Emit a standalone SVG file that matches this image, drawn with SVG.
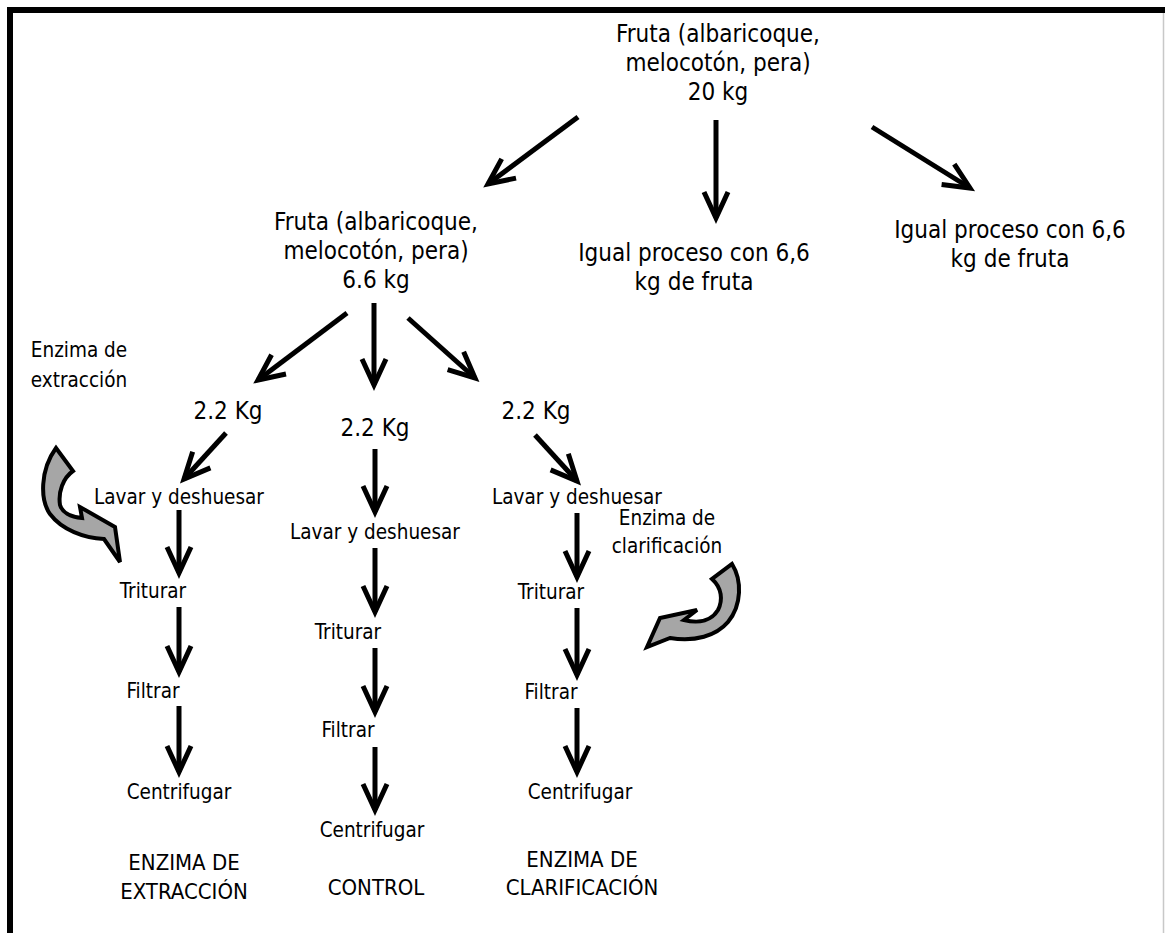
<svg xmlns="http://www.w3.org/2000/svg" width="1165" height="933" viewBox="0 0 1165 933">
  <style>
    text { font-family: "DejaVu Sans Condensed", "DejaVu Sans", sans-serif; fill: #000; text-anchor: middle; }
    .big { font-size: 24px; }
    .step { font-size: 20.5px; }
    .cap { font-size: 22px; }
    .arrow { stroke: #000; stroke-width: 5; fill: none; marker-end: url(#head); }
    .bend { fill: #a6a6a6; stroke: #000; stroke-width: 4; stroke-linejoin: miter; }
  </style>
  <defs>
    <marker id="head" markerUnits="userSpaceOnUse" orient="auto" overflow="visible" refX="0" refY="0" markerWidth="40" markerHeight="40">
      <path d="M-26,-12 L0,0 L-26,12" fill="none" stroke="#000" stroke-width="5" stroke-linejoin="miter"/>
    </marker>
  </defs>

  <rect width="1165" height="933" fill="#fff"/>

  <!-- frame -->
  <g id="frame">
    <rect x="7" y="7" width="1158" height="6" fill="#000"/>
    <rect x="7" y="7" width="6" height="926" fill="#000"/>
    <line x1="1163.5" y1="13" x2="1163.5" y2="933" stroke="#c8c8c8" stroke-width="1.5"/>
  </g>

  <!-- connectors -->
  <g id="connectors">
    <line class="arrow" x1="578" y1="117" x2="488" y2="184"/>
    <line class="arrow" x1="716" y1="120" x2="716" y2="218"/>
    <line class="arrow" x1="872" y1="127" x2="970" y2="188"/>

    <line class="arrow" x1="347" y1="313" x2="258" y2="380"/>
    <line class="arrow" x1="374" y1="303" x2="374" y2="385"/>
    <line class="arrow" x1="408" y1="318" x2="475" y2="378"/>

    <line class="arrow" x1="226" y1="433" x2="184" y2="479"/>
    <line class="arrow" x1="535" y1="435" x2="577" y2="481"/>

    <line class="arrow" x1="179" y1="510" x2="179" y2="573"/>
    <line class="arrow" x1="179" y1="607" x2="179" y2="672"/>
    <line class="arrow" x1="179" y1="706" x2="179" y2="772"/>

    <line class="arrow" x1="375" y1="449" x2="375" y2="512"/>
    <line class="arrow" x1="375" y1="548" x2="375" y2="612"/>
    <line class="arrow" x1="375" y1="648" x2="375" y2="712"/>
    <line class="arrow" x1="375" y1="747" x2="375" y2="810"/>

    <line class="arrow" x1="577" y1="513" x2="577" y2="577"/>
    <line class="arrow" x1="577" y1="608" x2="577" y2="675"/>
    <line class="arrow" x1="577" y1="708" x2="577" y2="772"/>

    <!-- curved enzyme-addition arrows -->
    <path class="bend" d="M56,448 L73,471 C63,478 58,492 60,505 C62,512 70,517 82,518 L80,507 L115,527 L120,562 L104,539 C84,538 62,530 50,514 C40,500 40,470 56,448 Z"/>
    <path class="bend" d="M732,564 C742,580 742,605 728,622 C716,636 695,642 670,638 L647,647 L660,618 L697,610 L684,620 C700,624 712,620 718,610 C723,600 722,588 712,579 Z"/>
  </g>

  <g id="fruta-20">
    <text class="big" x="718" y="42">Fruta (albaricoque,</text>
    <text class="big" x="718" y="71">melocotón, pera)</text>
    <text class="big" x="718" y="100">20 kg</text>
  </g>

  <g id="fruta-6-6">
    <text class="big" x="376" y="230">Fruta (albaricoque,</text>
    <text class="big" x="376" y="259">melocotón, pera)</text>
    <text class="big" x="376" y="288">6.6 kg</text>
  </g>

  <g id="igual-1">
    <text class="big" x="694" y="261">Igual proceso con 6,6</text>
    <text class="big" x="694" y="290">kg de fruta</text>
  </g>

  <g id="igual-2">
    <text class="big" x="1010" y="238">Igual proceso con 6,6</text>
    <text class="big" x="1010" y="267">kg de fruta</text>
  </g>

  <g id="enzima-extraccion">
    <text class="step" x="79" y="357">Enzima de</text>
    <text class="step" x="79" y="387">extracción</text>
  </g>

  <g id="enzima-clarificacion">
    <text class="step" x="667" y="525">Enzima de</text>
    <text class="step" x="667" y="553">clarificación</text>
  </g>

  <!-- left column -->
  <g id="kg-left"><text class="big" x="228" y="419">2.2 Kg</text></g>
  <g id="lavar-left"><text class="step" x="179" y="504">Lavar y deshuesar</text></g>
  <g id="triturar-left"><text class="step" x="153" y="598">Triturar</text></g>
  <g id="filtrar-left"><text class="step" x="153" y="698">Filtrar</text></g>
  <g id="centrifugar-left"><text class="step" x="179" y="799">Centrifugar</text></g>
  <g id="label-left">
    <text class="cap" x="184" y="870">ENZIMA DE</text>
    <text class="cap" x="184" y="899">EXTRACCIÓN</text>
  </g>

  <!-- control column -->
  <g id="kg-center"><text class="big" x="375" y="436">2.2 Kg</text></g>
  <g id="lavar-center"><text class="step" x="375" y="539">Lavar y deshuesar</text></g>
  <g id="triturar-center"><text class="step" x="348" y="639">Triturar</text></g>
  <g id="filtrar-center"><text class="step" x="348" y="737">Filtrar</text></g>
  <g id="centrifugar-center"><text class="step" x="372" y="837">Centrifugar</text></g>
  <g id="label-center"><text class="cap" x="376" y="895">CONTROL</text></g>

  <!-- right column -->
  <g id="kg-right"><text class="big" x="536" y="419">2.2 Kg</text></g>
  <g id="lavar-right"><text class="step" x="577" y="504">Lavar y deshuesar</text></g>
  <g id="triturar-right"><text class="step" x="551" y="599">Triturar</text></g>
  <g id="filtrar-right"><text class="step" x="551" y="699">Filtrar</text></g>
  <g id="centrifugar-right"><text class="step" x="580" y="799">Centrifugar</text></g>
  <g id="label-right">
    <text class="cap" x="582" y="867">ENZIMA DE</text>
    <text class="cap" x="582" y="895">CLARIFICACIÓN</text>
  </g>
</svg>
